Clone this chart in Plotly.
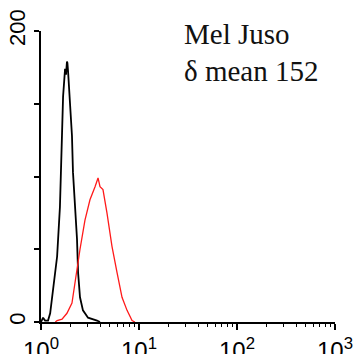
import plotly.graph_objects as go

# Black (control) histogram: fluorescence channel (linear) and counts
black_x = [1.0, 1.05, 1.10, 1.18, 1.24, 1.33, 1.46, 1.56, 1.61, 1.64, 1.68, 1.72, 1.76, 1.80, 1.84, 1.86, 1.89, 1.98, 2.07, 2.12, 2.22, 2.33, 2.39, 2.50, 2.68, 3.02, 3.73, 4.0]
black_y = [0, 3, 1, 1, 6, 24, 45, 79, 104, 130, 155, 166, 174, 170, 179, 178, 172, 153, 128, 103, 79, 57, 34, 17, 8, 3, 1, 0]

# Red (stained) histogram
red_x = [1.40, 1.46, 1.64, 1.84, 2.07, 2.22, 2.50, 2.81, 3.16, 3.56, 3.82, 4.0, 4.29, 4.71, 5.3, 5.97, 6.71, 7.55, 8.49, 9.1]
red_y = [0, 1, 2, 6, 13, 27, 50, 70, 84, 93, 99, 93, 91, 75, 52, 34, 17, 8, 1, 0]

x_tickvals = [1, 10, 100, 1000]
x_ticktext = ["10<sup>0</sup>", "10<sup>1</sup>", "10<sup>2</sup>", "10<sup>3</sup>"]
y_tickvals = [0, 50, 100, 150, 200]
y_ticktext = ["0", "", "", "", "200"]
minor_vals = [m * d for d in (1, 10, 100) for m in range(2, 10)]

title_lines = ["Mel Juso", "δ mean 152"]

fig = go.Figure()
fig.add_trace(go.Scatter(x=black_x, y=black_y, mode="lines",
                         line=dict(color="black", width=1.8), showlegend=False))
fig.add_trace(go.Scatter(x=red_x, y=red_y, mode="lines",
                         line=dict(color="#ff1a1a", width=1.3), showlegend=False))

fig.update_xaxes(type="log", range=[0, 3], showgrid=False, zeroline=False,
                 automargin=False,
                 showline=True, linecolor="black", linewidth=2,
                 ticks="outside", ticklen=6, tickwidth=1.5, tickcolor="black",
                 tickvals=x_tickvals, ticktext=x_ticktext,
                 tickfont=dict(family="Liberation Sans", size=24, color="black"),
                 minor=dict(tickvals=minor_vals, ticks="outside", ticklen=3,
                            tickwidth=1.2, tickcolor="black"))
fig.update_yaxes(range=[0, 200], showgrid=False, zeroline=False,
                 automargin=False,
                 showline=True, linecolor="black", linewidth=2,
                 ticks="outside", ticklen=5, tickwidth=1.5, tickcolor="black",
                 tickvals=y_tickvals, ticktext=y_ticktext, tickangle=-90,
                 tickfont=dict(family="Liberation Sans", size=22, color="black"))

for i, t in enumerate(title_lines):
    fig.add_annotation(text=t, xref="paper", yref="paper",
                       x=0.48, y=0.99 - i * 0.128, xanchor="left", yanchor="middle",
                       showarrow=False,
                       font=dict(family="Liberation Serif", size=29, color="#111"))

fig.update_layout(width=361, height=354, plot_bgcolor="white", paper_bgcolor="white",
                  margin=dict(l=41, r=26, t=31, b=32))
fig.write_html("out.html", config={"displayModeBar": False},
               post_script="document.body.style.margin='0';document.body.style.padding='0';document.body.style.overflow='hidden';")
